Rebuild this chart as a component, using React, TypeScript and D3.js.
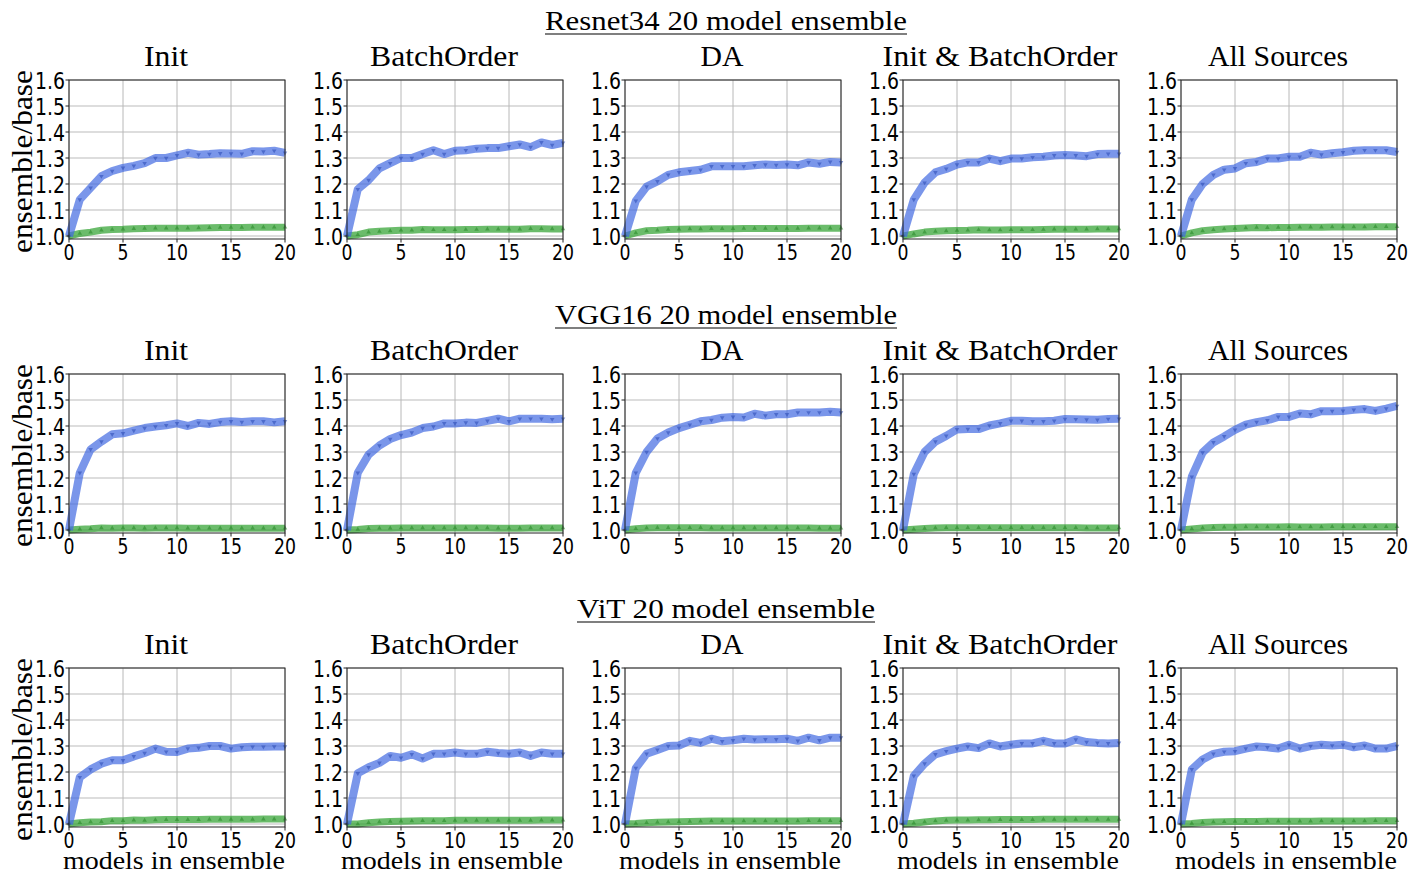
import React from 'react';
import * as d3 from 'd3';

// source-of-variance panels (columns) and model rows
const sources = ['Init', 'BatchOrder', 'DA', 'Init & BatchOrder', 'All Sources'];
const models = ['Resnet34 20 model ensemble', 'VGG16 20 model ensemble', 'ViT 20 model ensemble'];
const xTicks = [0, 5, 10, 15, 20];
const yTicks = [1.0, 1.1, 1.2, 1.3, 1.4, 1.5, 1.6];

// blue curves (ensemble/base), one array per source, x = 0..20
const resnetBlue = [
  [1.0, 1.14, 1.185, 1.23, 1.25, 1.262, 1.27, 1.28, 1.3, 1.3, 1.31, 1.32, 1.313, 1.315, 1.318, 1.317, 1.316, 1.326, 1.325, 1.328, 1.32],
  [1.0, 1.18, 1.215, 1.26, 1.28, 1.3, 1.3, 1.315, 1.33, 1.315, 1.328, 1.33, 1.336, 1.338, 1.338, 1.345, 1.352, 1.342, 1.36, 1.35, 1.358],
  [1.0, 1.135, 1.19, 1.21, 1.235, 1.245, 1.25, 1.255, 1.268, 1.268, 1.268, 1.268, 1.272, 1.275, 1.273, 1.275, 1.272, 1.283, 1.278, 1.285, 1.283],
  [1.0, 1.14, 1.205, 1.245, 1.258, 1.275, 1.283, 1.283, 1.298, 1.288, 1.298, 1.298, 1.303, 1.305, 1.31, 1.312, 1.31, 1.307, 1.315, 1.316, 1.316],
  [1.0, 1.14, 1.2, 1.235, 1.255, 1.26, 1.28, 1.285, 1.298, 1.298, 1.305, 1.305, 1.32, 1.313, 1.318, 1.322, 1.328, 1.33, 1.33, 1.33, 1.323],
];
const resnetGreen = [
  [1.0, 1.01, 1.015, 1.022, 1.025, 1.026, 1.028, 1.029, 1.03, 1.03, 1.03, 1.03, 1.031, 1.032, 1.033, 1.033, 1.033, 1.034, 1.034, 1.034, 1.034],
  [1.0, 1.005, 1.015, 1.018, 1.02, 1.022, 1.022, 1.025, 1.024, 1.024, 1.024, 1.025, 1.025, 1.026, 1.026, 1.026, 1.026, 1.028, 1.028, 1.027, 1.027],
  [1.0, 1.012, 1.02, 1.022, 1.025, 1.026, 1.027, 1.027, 1.028, 1.028, 1.028, 1.029, 1.029, 1.029, 1.029, 1.029, 1.029, 1.03, 1.03, 1.03, 1.03],
  [1.0, 1.008, 1.015, 1.018, 1.02, 1.021, 1.022, 1.024, 1.023, 1.023, 1.024, 1.024, 1.024, 1.025, 1.026, 1.026, 1.026, 1.026, 1.027, 1.027, 1.027],
  [1.0, 1.012, 1.02, 1.024, 1.027, 1.029, 1.031, 1.033, 1.032, 1.033, 1.033, 1.034, 1.034, 1.034, 1.035, 1.035, 1.035, 1.035, 1.036, 1.036, 1.036],
];
const vggBlue = [
  [1.0, 1.22, 1.31, 1.34, 1.368, 1.372, 1.382, 1.392, 1.398, 1.403, 1.41, 1.4, 1.412, 1.408, 1.415, 1.418, 1.415, 1.418, 1.418, 1.414, 1.418],
  [1.0, 1.22, 1.29, 1.325, 1.35, 1.365, 1.375, 1.392, 1.398, 1.41, 1.41, 1.413, 1.412, 1.42, 1.428, 1.418, 1.428, 1.428, 1.428, 1.426, 1.428],
  [1.0, 1.22, 1.3, 1.352, 1.375, 1.392, 1.405, 1.418, 1.423, 1.432, 1.435, 1.433, 1.447, 1.44, 1.445, 1.445, 1.452, 1.452, 1.452, 1.455, 1.452],
  [1.0, 1.215, 1.3, 1.34, 1.362, 1.387, 1.388, 1.388, 1.402, 1.41, 1.42, 1.42, 1.418, 1.418, 1.42, 1.427, 1.426, 1.425, 1.424, 1.427, 1.428],
  [1.0, 1.205, 1.298, 1.337, 1.36, 1.385, 1.405, 1.415, 1.422, 1.435, 1.435, 1.448, 1.445, 1.457, 1.457, 1.458, 1.462, 1.465, 1.458, 1.467, 1.477],
];
const vggGreen = [
  [1.0, 1.003, 1.005, 1.008, 1.007, 1.008, 1.008, 1.007, 1.008, 1.008, 1.008, 1.007, 1.007, 1.007, 1.007, 1.007, 1.007, 1.007, 1.007, 1.007, 1.007],
  [1.0, 1.002, 1.006, 1.007, 1.007, 1.008, 1.008, 1.008, 1.008, 1.008, 1.008, 1.008, 1.008, 1.008, 1.007, 1.007, 1.007, 1.008, 1.008, 1.008, 1.008],
  [1.0, 1.005, 1.008, 1.009, 1.009, 1.009, 1.009, 1.009, 1.008, 1.008, 1.008, 1.008, 1.008, 1.008, 1.008, 1.008, 1.008, 1.008, 1.007, 1.007, 1.007],
  [1.0, 1.003, 1.006, 1.008, 1.009, 1.009, 1.009, 1.009, 1.009, 1.009, 1.009, 1.009, 1.009, 1.009, 1.009, 1.009, 1.009, 1.008, 1.008, 1.008, 1.008],
  [1.0, 1.004, 1.008, 1.01, 1.011, 1.011, 1.012, 1.012, 1.012, 1.012, 1.013, 1.012, 1.012, 1.012, 1.013, 1.013, 1.013, 1.013, 1.013, 1.013, 1.013],
];
const vitBlue = [
  [1.0, 1.18, 1.21, 1.232, 1.245, 1.245, 1.26, 1.273, 1.29, 1.278, 1.277, 1.29, 1.293, 1.3, 1.3, 1.29, 1.295, 1.297, 1.297, 1.298, 1.298],
  [1.0, 1.195, 1.218, 1.235, 1.262, 1.255, 1.268, 1.252, 1.27, 1.27, 1.275, 1.27, 1.27, 1.278, 1.273, 1.27, 1.275, 1.262, 1.275, 1.27, 1.27],
  [1.0, 1.215, 1.27, 1.285, 1.3, 1.302, 1.32, 1.312, 1.328, 1.318, 1.322, 1.328, 1.325, 1.326, 1.326, 1.328, 1.32, 1.332, 1.322, 1.332, 1.332],
  [1.0, 1.185, 1.232, 1.268, 1.28, 1.29, 1.298, 1.292, 1.31, 1.298, 1.305, 1.31, 1.31, 1.32, 1.31, 1.31, 1.325, 1.315, 1.312, 1.31, 1.312],
  [1.0, 1.21, 1.248, 1.27, 1.278, 1.28, 1.29, 1.298, 1.295, 1.29, 1.305, 1.29, 1.3, 1.305, 1.302, 1.305, 1.295, 1.302, 1.29, 1.29, 1.3],
];
const vitGreen = [
  [1.0, 1.005, 1.008, 1.009, 1.013, 1.013, 1.015, 1.014, 1.016, 1.017, 1.017, 1.017, 1.017, 1.018, 1.018, 1.018, 1.018, 1.018, 1.019, 1.019, 1.019],
  [1.0, 1.0, 1.005, 1.008, 1.01, 1.011, 1.012, 1.013, 1.013, 1.013, 1.014, 1.014, 1.014, 1.014, 1.014, 1.014, 1.014, 1.014, 1.015, 1.015, 1.015],
  [1.0, 1.002, 1.005, 1.007, 1.008, 1.009, 1.01, 1.011, 1.012, 1.012, 1.012, 1.012, 1.012, 1.012, 1.012, 1.012, 1.012, 1.013, 1.013, 1.013, 1.013],
  [1.0, 1.003, 1.008, 1.012, 1.014, 1.015, 1.015, 1.016, 1.016, 1.017, 1.017, 1.017, 1.017, 1.018, 1.018, 1.018, 1.018, 1.018, 1.018, 1.018, 1.018],
  [1.0, 1.002, 1.006, 1.008, 1.009, 1.01, 1.01, 1.01, 1.011, 1.011, 1.011, 1.011, 1.011, 1.012, 1.012, 1.012, 1.012, 1.012, 1.013, 1.013, 1.013],
];

const blueRows = [resnetBlue, vggBlue, vitBlue];
const greenRows = [resnetGreen, vggGreen, vitGreen];

// measured text widths (the figure is squeezed horizontally)
const titleWidths = [44, 148, 43, 235, 140];
const supWidths = [362, 342, 298];

const serif = '"Liberation Serif", "DejaVu Serif", serif';
const sans = '"DejaVu Sans", sans-serif';

const W = 1412, H = 874;
const panelLeft = 69, panelStep = 278, panelW = 216;
const rowTop = 80, rowStep = 294, panelH = 159;

function Panel({ row, col }: { row: number; col: number }) {
  const x0 = panelLeft + col * panelStep;
  const y0 = rowTop + row * rowStep;
  const x = d3.scaleLinear().domain([0, 20]).range([0, panelW]);
  const y = d3.scaleLinear().domain([0.9885, 1.6]).range([panelH, 0]);
  const line = d3.line<number>().x((d, i) => x(i)).y(d => y(d));
  const blue = blueRows[row][col];
  const green = greenRows[row][col];
  const tri = d3.symbol().type(d3.symbolTriangle).size(9)();

  return (
    <g transform={`translate(${x0},${y0})`}>
      {/* grid */}
      {yTicks.map(t => (
        <line key={'gy' + t} x1={0} x2={panelW} y1={y(t)} y2={y(t)} stroke="#d2d2d2" strokeWidth={1.6} />
      ))}
      {xTicks.map(t => (
        <line key={'gx' + t} x1={x(t)} x2={x(t)} y1={0} y2={panelH} stroke="#b8b8b8" strokeWidth={1} />
      ))}
      {/* lines */}
      <path d={line(green) || ''} fill="none" stroke="#2ca02c" strokeOpacity={0.7} strokeWidth={7} strokeLinejoin="round" />
      {green.map((v, i) => (
        <path key={'gm' + i} d={tri || ''} transform={`translate(${x(i)},${y(v)})`} fill="#2a8a2a" opacity={0.6} />
      ))}
      <path d={line(blue) || ''} fill="none" stroke="royalblue" strokeOpacity={0.7} strokeWidth={8} strokeLinejoin="round" />
      {blue.map((v, i) => (
        <path key={'bm' + i} d={tri || ''} transform={`translate(${x(i)},${y(v)}) rotate(180)`} fill="#2f4fb8" opacity={0.6} />
      ))}
      {/* spines */}
      <rect x={0} y={0} width={panelW} height={panelH} fill="none" stroke="#222" strokeWidth={1} />
      {/* y ticks */}
      {yTicks.map(t => (
        <g key={'ty' + t}>
          <line x1={-3.5} x2={0} y1={y(t)} y2={y(t)} stroke="#222" />
          <text x={-4} y={y(t) + 8.5} textAnchor="end" fontFamily={sans} fontSize={23}
            textLength={30} lengthAdjust="spacingAndGlyphs">{t.toFixed(1)}</text>
        </g>
      ))}
      {/* x ticks */}
      {xTicks.map(t => (
        <g key={'tx' + t}>
          <line x1={x(t)} x2={x(t)} y1={panelH} y2={panelH + 3.5} stroke="#222" />
          <text x={x(t)} y={panelH + 21} textAnchor="middle" fontFamily={sans} fontSize={22}
            textLength={String(t).length * 11} lengthAdjust="spacingAndGlyphs">{t}</text>
        </g>
      ))}
      {/* panel title */}
      <text x={panelW / 2 - 11} y={-14} textAnchor="middle" fontFamily={serif} fontSize={29}
        textLength={titleWidths[col]} lengthAdjust="spacingAndGlyphs">{sources[col]}</text>
      {col === 0 && (
        <text transform={`translate(${32 - x0},${panelH / 2 + 2}) rotate(-90)`} x={0} y={0}
          textAnchor="middle" fontFamily={serif} fontSize={30} textLength={183} lengthAdjust="spacingAndGlyphs">
          ensemble/base
        </text>
      )}
      {row === 2 && (
        <text x={panelW / 2 - 3} y={panelH + 42} textAnchor="middle" fontFamily={serif} fontSize={26}
          textLength={222} lengthAdjust="spacingAndGlyphs">models in ensemble</text>
      )}
    </g>
  );
}

export default function App() {
  return (
    <svg width={W} height={H} style={{ position: 'absolute', left: 0, top: 0, background: '#fff' }}>
      <rect width={W} height={H} fill="#fff" />
      {models.map((m, r) => {
        const base = 30 + r * rowStep;
        const cx = 726;
        return (
          <g key={m}>
            <text x={cx} y={base} textAnchor="middle" fontFamily={serif} fontSize={27}
              textLength={supWidths[r]} lengthAdjust="spacingAndGlyphs">{m}</text>
            <line x1={cx - supWidths[r] / 2} x2={cx + supWidths[r] / 2} y1={base + 4} y2={base + 4} stroke="#000" strokeWidth={1.2} />
          </g>
        );
      })}
      {models.map((m, r) => sources.map((s, c) => <Panel key={m + s} row={r} col={c} />))}
    </svg>
  );
}
